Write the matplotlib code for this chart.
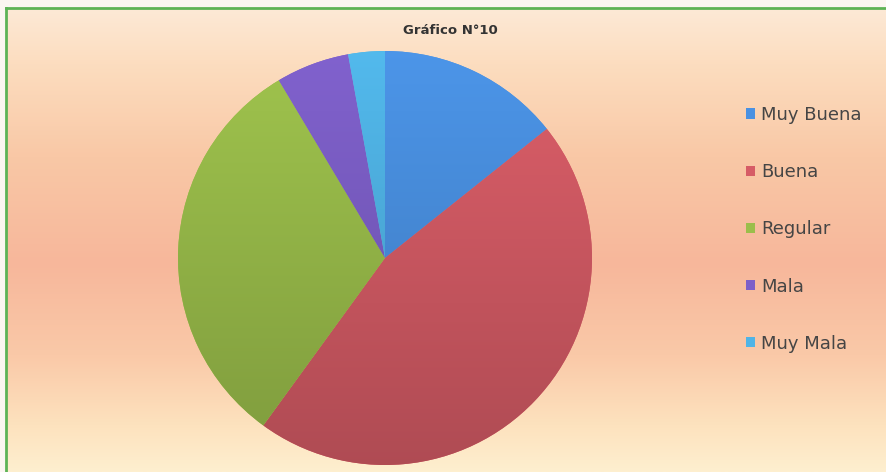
import numpy as np
import matplotlib.pyplot as plt
from matplotlib.colors import LinearSegmentedColormap, to_rgb
from matplotlib.lines import Line2D

# datos del gráfico
categorias = ["Muy Buena", "Buena", "Regular", "Mala", "Muy Mala"]
valores = [5, 16, 11, 2, 1]
colores = ["#4A91E2", "#D65C66", "#9BBE4B", "#7D5FC8", "#50B4E6"]
titulo = "Gráfico N°10"

plt.rcParams['font.family'] = ['DejaVu Sans']

W, H = 887, 472
fig = plt.figure(figsize=(W / 100, H / 100), dpi=100)
fig.patch.set_facecolor("#FBF6F1")

# fondo degradado (de arriba hacia abajo)
bg = fig.add_axes([6 / W, 0, 1 - 6 / W, 1 - 8 / H])
bg.set_axis_off()
grad = LinearSegmentedColormap.from_list("fondo", [
    (0.00, "#FDE9D6"),
    (0.12, "#FCDDBF"),
    (0.32, "#F9C8A6"),
    (0.55, "#F7B79B"),
    (0.75, "#FAC9A8"),
    (0.90, "#FDE2BE"),
    (1.00, "#FEEFCF"),
])
bg.imshow(np.linspace(0, 1, 256).reshape(-1, 1), cmap=grad, aspect="auto",
          extent=[0, 1, 0, 1], interpolation="bilinear")
bg.set_xlim(0, 1)
bg.set_ylim(0, 1)

# marco verde
fig.add_artist(Line2D([6 / W, 1], [1 - 8 / H, 1 - 8 / H], color="#5DB356", lw=2,
                      transform=fig.transFigure))
fig.add_artist(Line2D([6 / W, 6 / W], [0, 1 - 8 / H], color="#5DB356", lw=2,
                      transform=fig.transFigure))

# pastel
cx, cy, r = 385, H - 258, 207
ax = fig.add_axes([(cx - r) / W, (cy - r) / H, 2 * r / W, 2 * r / H])
wedges, _ = ax.pie(valores, colors=colores, startangle=90, counterclock=False,
                   radius=1, wedgeprops=dict(linewidth=0))
ax.set_xlim(-1, 1)
ax.set_ylim(-1, 1)
ax.set_aspect("equal")
ax.set_axis_off()

# sombreado: algo más oscuro hacia abajo
for w, c in zip(wedges, colores):
    base = np.array(to_rgb(c))
    t = np.linspace(0.82, 1.03, 200).reshape(-1, 1, 1)
    img = np.clip(base.reshape(1, 1, 3) * t, 0, 1)
    im = ax.imshow(img, extent=[-1, 1, -1, 1], origin="lower", aspect="auto",
                   interpolation="bilinear", zorder=w.get_zorder() + 0.1)
    im.set_clip_path(w)

fig.text(450 / W, 1 - 30 / H, titulo, ha="center", va="center",
         fontsize=9.5, fontweight="bold", color="#333333")

fig.legend(wedges, categorias, loc="upper left",
           bbox_to_anchor=(737 / W, 1 - 97 / H), frameon=False,
           fontsize=13, labelspacing=2.17, handlelength=0.5, handleheight=0.5,
           handletextpad=0.35, borderpad=0, labelcolor="#454545")

fig.savefig("out.png", dpi=100, facecolor=fig.get_facecolor())
